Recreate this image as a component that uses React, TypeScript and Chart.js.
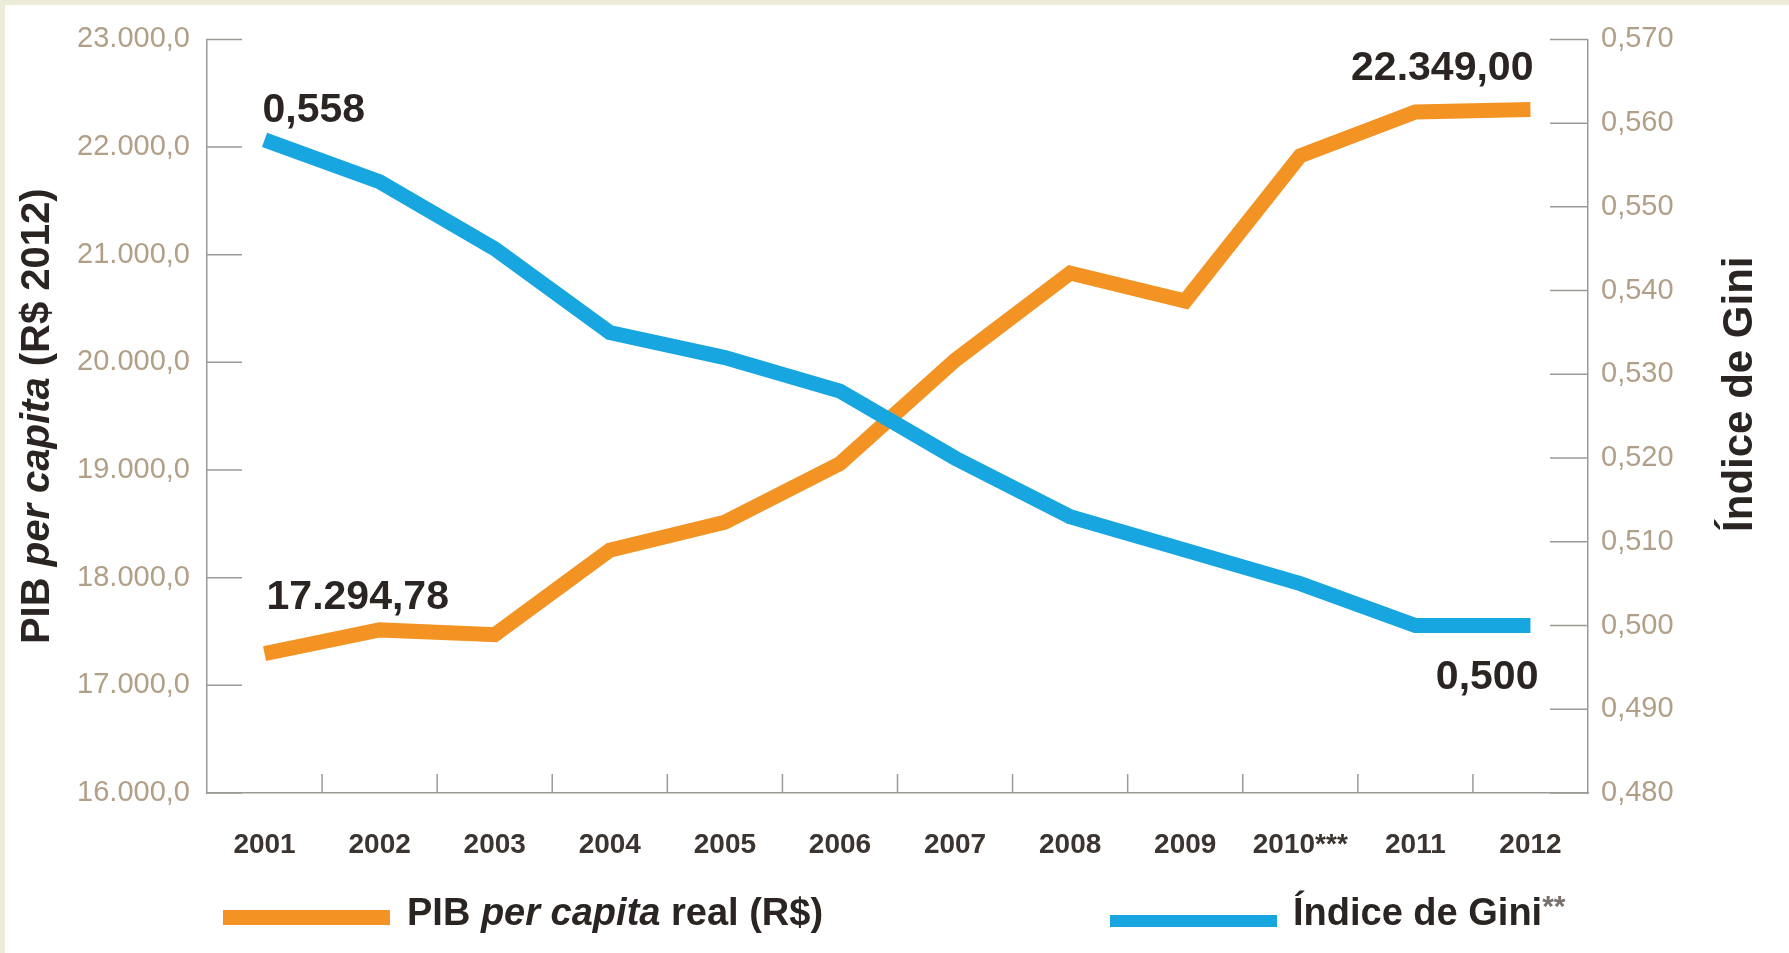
import React, { useEffect, useRef } from 'react';
import { Chart, registerables } from 'chart.js';

Chart.register(...registerables);

// ---- Data ----
const YEARS = ['2001', '2002', '2003', '2004', '2005', '2006', '2007', '2008', '2009', '2010***', '2011', '2012'];
const PIB_PER_CAPITA = [17294.78, 17515, 17470, 18255, 18515, 19060, 20020, 20830, 20570, 21920, 22325, 22349];
const GINI_INDEX = [0.558, 0.553, 0.545, 0.535, 0.532, 0.528, 0.52, 0.513, 0.509, 0.505, 0.5, 0.5];
const PIB_AXIS = [16000, 23000, 1000];
const GINI_AXIS = [0.48, 0.57, 0.01];

// ---- Style ----
const FONT = '"Liberation Sans", Arial, Helvetica, sans-serif';
const ORANGE = '#F39323';
const BLUE = '#17A6E0';
const AXIS_COLOR = '#9d9a96';
const TICK_COLOR = '#B29F88';
const DARK = '#2a2522';
const BEIGE = '#EDEBDA';

function fmtBR(v: number, decimals: number): string {
  const fixed = Math.abs(v).toFixed(decimals);
  const [intPart, decPart] = fixed.split('.');
  const intStr = intPart.replace(/\B(?=(\d{3})+(?!\d))/g, '.');
  return (v < 0 ? '-' : '') + intStr + (decPart ? ',' + decPart : '');
}

type Part = { text: string; font: string; color?: string; dy?: number };

function richWidth(ctx: CanvasRenderingContext2D, parts: Part[]) {
  let w = 0;
  for (const p of parts) {
    ctx.font = p.font;
    w += ctx.measureText(p.text).width;
  }
  return w;
}

function drawRich(ctx: CanvasRenderingContext2D, parts: Part[], x: number, y: number) {
  let cx = x;
  for (const p of parts) {
    ctx.font = p.font;
    ctx.fillStyle = p.color || DARK;
    ctx.fillText(p.text, cx, y + (p.dy || 0));
    cx += ctx.measureText(p.text).width;
  }
}

const decorPlugin = {
  id: 'decor',
  beforeDatasetsDraw(chart: any) {
    const { ctx, chartArea: a, scales } = chart;
    ctx.save();
    ctx.strokeStyle = AXIS_COLOR;
    ctx.lineWidth = 1.5;
    const line = (x1: number, y1: number, x2: number, y2: number) => {
      ctx.beginPath();
      ctx.moveTo(x1, y1);
      ctx.lineTo(x2, y2);
      ctx.stroke();
    };
    const yl = scales.y;
    yl.ticks.forEach((t: any) => {
      const y = yl.getPixelForValue(t.value);
      line(a.left, y, a.left + 35, y);
    });
    const yr = scales.y1;
    yr.ticks.forEach((t: any) => {
      const y = yr.getPixelForValue(t.value);
      line(a.right - 38, y, a.right, y);
    });
    const xs = scales.x;
    for (let i = 0; i < YEARS.length - 1; i++) {
      const bx = (xs.getPixelForValue(i) + xs.getPixelForValue(i + 1)) / 2;
      line(bx, a.bottom, bx, a.bottom - 19);
    }
    ctx.restore();
  },
  afterDraw(chart: any) {
    const { ctx, chartArea: a, scales } = chart;
    const mid = (a.top + a.bottom) / 2;
    ctx.save();
    ctx.textBaseline = 'alphabetic';
    ctx.textAlign = 'left';

    // Left axis title
    const leftTitle: Part[] = [
      { text: 'PIB ', font: `bold 40px ${FONT}` },
      { text: 'per capita', font: `italic bold 40px ${FONT}` },
      { text: ' (R$ 2012)', font: `bold 40px ${FONT}` },
    ];
    ctx.save();
    ctx.translate(a.left - 158, mid);
    ctx.rotate(-Math.PI / 2);
    drawRich(ctx, leftTitle, -richWidth(ctx, leftTitle) / 2, 0);
    ctx.restore();

    // Right axis title
    const rightTitle: Part[] = [{ text: 'Índice de Gini', font: `bold 42px ${FONT}` }];
    ctx.save();
    ctx.translate(a.right + 164, mid - 22);
    ctx.rotate(-Math.PI / 2);
    drawRich(ctx, rightTitle, -richWidth(ctx, rightTitle) / 2, 0);
    ctx.restore();

    // Legend
    ctx.fillStyle = ORANGE;
    ctx.fillRect(a.left + 16, a.bottom + 117, 167, 15);
    drawRich(ctx, [
      { text: 'PIB ', font: `bold 38px ${FONT}` },
      { text: 'per capita', font: `italic bold 38px ${FONT}` },
      { text: ' real (R$)', font: `bold 38px ${FONT}` },
    ], a.left + 200, a.bottom + 132);
    ctx.fillStyle = BLUE;
    ctx.fillRect(a.left + 903, a.bottom + 122, 167, 12);
    drawRich(ctx, [
      { text: 'Índice de Gini', font: `bold 38px ${FONT}` },
      { text: '**', font: `bold 30px ${FONT}`, color: '#77706b', dy: -9 },
    ], a.left + 1086, a.bottom + 132);

    // Value annotations
    const xs = scales.x, yl = scales.y, yr = scales.y1;
    const last = YEARS.length - 1;
    ctx.fillStyle = DARK;
    ctx.font = `bold 41px ${FONT}`;
    ctx.textAlign = 'left';
    ctx.fillText(fmtBR(GINI_INDEX[0], 3), xs.getPixelForValue(0) - 2, yr.getPixelForValue(GINI_INDEX[0]) - 18);
    ctx.fillText(fmtBR(PIB_PER_CAPITA[0], 2), xs.getPixelForValue(0) + 2, yl.getPixelForValue(PIB_PER_CAPITA[0]) - 45);
    ctx.textAlign = 'right';
    ctx.fillText(fmtBR(PIB_PER_CAPITA[last], 2), xs.getPixelForValue(last) + 3, yl.getPixelForValue(PIB_PER_CAPITA[last]) - 29);
    ctx.fillText(fmtBR(GINI_INDEX[last], 3), xs.getPixelForValue(last) + 8, yr.getPixelForValue(GINI_INDEX[last]) + 63);
    ctx.restore();
  },
};

export default function App() {
  const ref = useRef<HTMLCanvasElement>(null);

  useEffect(() => {
    if (!ref.current) return;
    const border = { display: true, color: AXIS_COLOR, width: 1.5 };
    const chart = new Chart(ref.current, {
      type: 'line',
      data: {
        labels: YEARS,
        datasets: [
          {
            label: 'Índice de Gini**',
            data: GINI_INDEX,
            yAxisID: 'y1',
            borderColor: BLUE,
            backgroundColor: BLUE,
          },
          {
            label: 'PIB per capita real (R$)',
            data: PIB_PER_CAPITA,
            yAxisID: 'y',
            borderColor: ORANGE,
            backgroundColor: ORANGE,
          },
        ],
      },
      options: {
        responsive: false,
        animation: false,
        devicePixelRatio: 1,
        layout: { padding: { top: 34, left: 0, right: 0, bottom: 0 } },
        plugins: {
          legend: { display: false },
          tooltip: { enabled: false },
          title: { display: false },
        },
        elements: {
          point: { radius: 0, hoverRadius: 0 },
          line: { tension: 0, borderWidth: 15, borderCapStyle: 'butt', borderJoinStyle: 'miter', fill: false },
        },
        scales: {
          x: {
            type: 'category',
            offset: true,
            grid: { display: false, drawTicks: false, offset: true },
            border,
            ticks: {
              font: { family: FONT, size: 28, weight: 'bold' },
              color: '#3b3431',
              padding: 35,
              maxRotation: 0,
              autoSkip: false,
            },
            afterFit(s: any) {
              s.height = 160;
            },
          },
          y: {
            position: 'left',
            min: PIB_AXIS[0],
            max: PIB_AXIS[1],
            grid: { display: false, drawTicks: false },
            border,
            ticks: {
              stepSize: PIB_AXIS[2],
              callback: (v: any) => fmtBR(Number(v), 1),
              font: { family: FONT, size: 29 },
              color: TICK_COLOR,
              padding: 17,
            },
            afterFit(s: any) {
              s.width = 202;
            },
          },
          y1: {
            position: 'right',
            min: GINI_AXIS[0],
            max: GINI_AXIS[1],
            grid: { display: false, drawTicks: false },
            border,
            ticks: {
              stepSize: GINI_AXIS[2],
              callback: (v: any) => fmtBR(Number(v), 3),
              font: { family: FONT, size: 29 },
              color: TICK_COLOR,
              padding: 13,
            },
            afterFit(s: any) {
              s.width = 201;
            },
          },
        },
      } as any,
      plugins: [decorPlugin],
    });
    return () => chart.destroy();
  }, []);

  return (
    <div style={{ position: 'fixed', left: 0, top: 0, width: 1789, height: 953, background: BEIGE, overflow: 'hidden' }}>
      <div style={{ position: 'absolute', left: 5, top: 5, width: 1784, height: 948, background: '#ffffff' }}>
        <canvas ref={ref} width={1784} height={948} style={{ display: 'block', width: 1784, height: 948 }} />
      </div>
    </div>
  );
}
